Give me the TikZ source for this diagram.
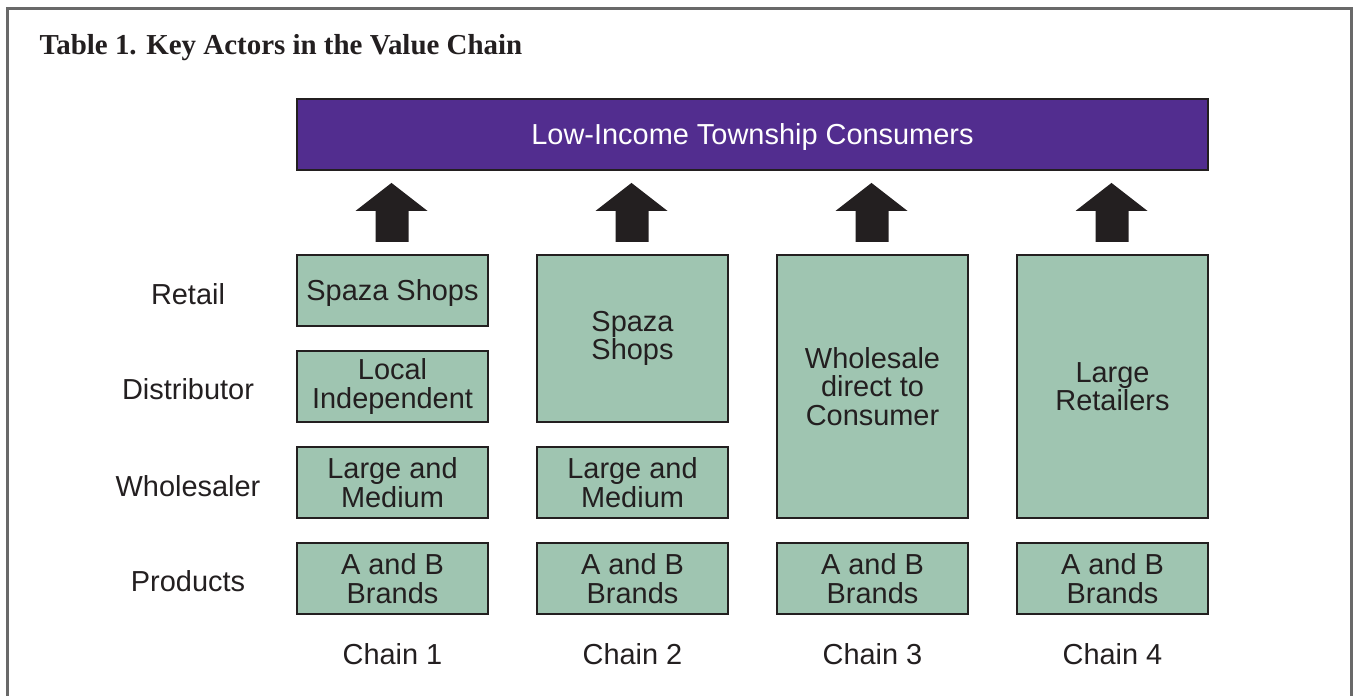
\documentclass[tikz,border=0pt]{standalone}
\usepackage{fontspec}
\setmainfont{Liberation Serif}
\setsansfont{Liberation Sans}
\usetikzlibrary{positioning}

\definecolor{inkgrey}{RGB}{35,31,32}
\definecolor{consumerpurple}{RGB}{82,45,143}
\definecolor{actorgreen}{RGB}{159,197,177}
\definecolor{framegrey}{RGB}{105,105,105}

\tikzset{
  actor/.style={draw=inkgrey, fill=actorgreen, line width=1.6pt, minimum width=143pt,
    minimum height=53.25pt, inner sep=0pt, align=center, text=inkgrey,
    font=\sffamily\fontsize{21.7}{21.4}\selectfont},
  rowlabel/.style={text=inkgrey, font=\sffamily\fontsize{21.7}{21.4}\selectfont},
  blockarrow/.style={fill=inkgrey},
}

\begin{document}
\begin{tikzpicture}[x=0.75pt,y=0.75pt,yscale=-1,xscale=1]
\useasboundingbox (0,0) rectangle (1353,696);

%Frame
\draw [framegrey, line width=1.8pt] (7.5,696) -- (7.5,8.5) -- (1351.5,8.5) -- (1351.5,696);

% Title
\draw (35,54) node [anchor=base west, text=inkgrey, font=\bfseries\fontsize{21.7}{26}\selectfont] (title) {Table 1. Key Actors in the Value Chain};

% Consumers
\draw (752.5,134.5) node [draw=inkgrey, fill=consumerpurple, line width=1.6pt, minimum width=683.25pt, minimum height=53.25pt, text depth=0pt, text=white, font=\sffamily\fontsize{21.7}{21.4}\selectfont] (consumers) {Low-Income Township Consumers};

% Chain 1
\draw (392.5,290.5) node [actor, text depth=0pt] (retailA) {Spaza Shops};
\draw (392.5,386.5) node [actor] (distA) {Local\\Independent};
\draw (392.5,482.5) node [actor] (wholeA) {Large and\\Medium};
\draw (392.5,578.5) node [actor] (prodA) {A and B\\Brands};

% Chain 2
\draw (632.5,338.5) node [actor, minimum height=125.25pt] (retailB) {Spaza\\Shops};
\draw (632.5,482.5) node [actor] (wholeB) {Large and\\Medium};
\draw (632.5,578.5) node [actor] (prodB) {A and B\\Brands};

% Chain 3
\draw (872.5,386.5) node [actor, minimum height=197.25pt] (retailC) {Wholesale\\direct to\\Consumer};
\draw (872.5,578.5) node [actor] (prodC) {A and B\\Brands};

% Chain 4
\draw (1112.5,386.5) node [actor, minimum height=197.25pt] (retailD) {Large\\Retailers};
\draw (1112.5,578.5) node [actor] (prodD) {A and B\\Brands};

% Block arrows
\foreach \top in {retailA,retailB,retailC,retailD}
  \fill [blockarrow, shift={(\top.north)}] (-17,-12) -- (-17,-43) -- (-37,-43) -- (-1,-71) -- (35,-43) -- (16,-43) -- (16,-12) -- cycle;

% Row labels
\draw (188,294) node [rowlabel] (lretail) {Retail};
\draw (188,389) node [rowlabel] (ldist) {Distributor};
\draw (188,486) node [rowlabel] (lwhole) {Wholesaler};
\draw (188,581) node [rowlabel] (lprod) {Products};

% Chain labels
\draw (392.5,654) node [rowlabel] (chainA) {Chain 1};
\draw (632.5,654) node [rowlabel] (chainB) {Chain 2};
\draw (872.5,654) node [rowlabel] (chainC) {Chain 3};
\draw (1112.5,654) node [rowlabel] (chainD) {Chain 4};

\end{tikzpicture}
\end{document}
